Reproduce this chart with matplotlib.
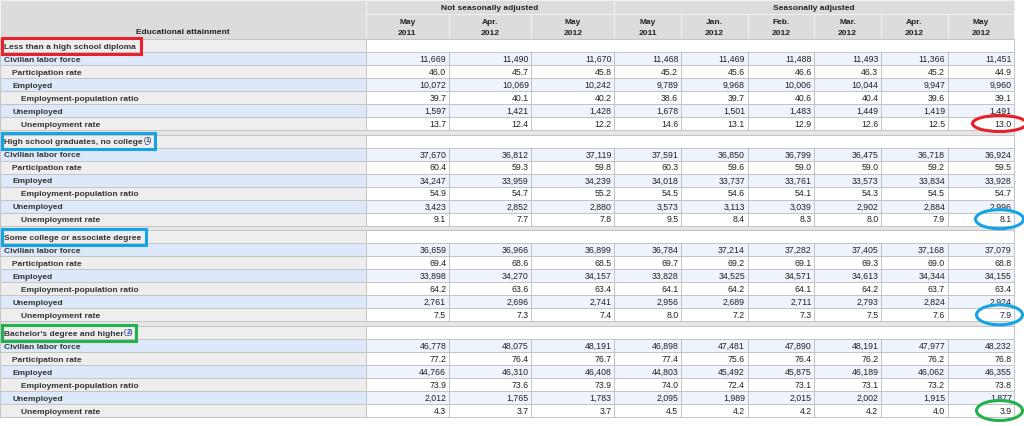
import matplotlib
matplotlib.use('Agg')
import matplotlib.pyplot as plt
from matplotlib.patches import Rectangle, Ellipse

plt.rcParams['font.family'] = ['Liberation Sans', 'DejaVu Sans']

# column headers
nsa_months = ['May\n2011', 'Apr.\n2012', 'May\n2012']
sa_months = ['May\n2011', 'Jan.\n2012', 'Feb.\n2012', 'Mar.\n2012', 'Apr.\n2012', 'May\n2012']

sections = ['Less than a high school diploma',
            'High school graduates, no college',
            'Some college or associate degree',
            "Bachelor's degree and higher"]
footnotes = [None, '1', None, '2']

row_labels = ['Civilian labor force', 'Participation rate', 'Employed',
              'Employment-population ratio', 'Unemployed', 'Unemployment rate']
row_indent = [0, 1, 1, 2, 1, 2]

less_hs = [
    ['11,669', '11,490', '11,670', '11,468', '11,469', '11,488', '11,493', '11,366', '11,451'],
    ['46.0', '45.7', '45.8', '45.2', '45.6', '46.6', '46.3', '45.2', '44.9'],
    ['10,072', '10,069', '10,242', '9,789', '9,968', '10,006', '10,044', '9,947', '9,960'],
    ['39.7', '40.1', '40.2', '38.6', '39.7', '40.6', '40.4', '39.6', '39.1'],
    ['1,597', '1,421', '1,428', '1,678', '1,501', '1,483', '1,449', '1,419', '1,491'],
    ['13.7', '12.4', '12.2', '14.6', '13.1', '12.9', '12.6', '12.5', '13.0'],
]
hs_grad = [
    ['37,670', '36,812', '37,119', '37,591', '36,850', '36,799', '36,475', '36,718', '36,924'],
    ['60.4', '59.3', '59.8', '60.3', '59.6', '59.0', '59.0', '59.2', '59.5'],
    ['34,247', '33,959', '34,239', '34,018', '33,737', '33,761', '33,573', '33,834', '33,928'],
    ['54.9', '54.7', '55.2', '54.5', '54.6', '54.1', '54.3', '54.5', '54.7'],
    ['3,423', '2,852', '2,880', '3,573', '3,113', '3,039', '2,902', '2,884', '2,996'],
    ['9.1', '7.7', '7.8', '9.5', '8.4', '8.3', '8.0', '7.9', '8.1'],
]
some_college = [
    ['36,659', '36,966', '36,899', '36,784', '37,214', '37,282', '37,405', '37,168', '37,079'],
    ['69.4', '68.6', '68.5', '69.7', '69.2', '69.1', '69.3', '69.0', '68.8'],
    ['33,898', '34,270', '34,157', '33,828', '34,525', '34,571', '34,613', '34,344', '34,155'],
    ['64.2', '63.6', '63.4', '64.1', '64.2', '64.1', '64.2', '63.7', '63.4'],
    ['2,761', '2,696', '2,741', '2,956', '2,689', '2,711', '2,793', '2,824', '2,924'],
    ['7.5', '7.3', '7.4', '8.0', '7.2', '7.3', '7.5', '7.6', '7.9'],
]
bachelor = [
    ['46,778', '48,075', '48,191', '46,898', '47,481', '47,890', '48,191', '47,977', '48,232'],
    ['77.2', '76.4', '76.7', '77.4', '75.6', '76.4', '76.2', '76.2', '76.8'],
    ['44,766', '46,310', '46,408', '44,803', '45,492', '45,875', '46,189', '46,062', '46,355'],
    ['73.9', '73.6', '73.9', '74.0', '72.4', '73.1', '73.1', '73.2', '73.8'],
    ['2,012', '1,765', '1,783', '2,095', '1,989', '2,015', '2,002', '1,915', '1,877'],
    ['4.3', '3.7', '3.7', '4.5', '4.2', '4.2', '4.2', '4.0', '3.9'],
]
tables = [less_hs, hs_grad, some_college, bachelor]
box_colors = ['#e8202a', '#14a4e6', '#14a4e6', '#22b14c']
# size of the hand-drawn ovals round the latest rate (w, h in px)
oval_size = [(54, 16), (48, 19), (46, 20), (46, 20)]

# layout (pixels)
W, H = 1024, 426
label_w = 366
nsa_w = 82.7
sa_w = 66.7
hdr1, hdr2 = 14, 39
row_h = 13.0
gap_h = 4.67

col_x = [label_w + i * nsa_w for i in range(4)]
col_x += [col_x[-1] + (i + 1) * sa_w for i in range(6)]
right = col_x[-1]

grid = '#c4c4c4'
hdr_bg = '#dcdcdc'
lab_bg = '#eeeeee'
lab_blue = '#dde8fa'
cell_blue = '#eef3fc'
txt = '#222222'
fs = 6.3
fsb = 6.0
base = 3.3  # baseline offset below row centre

fig = plt.figure(figsize=(W / 100, H / 100), dpi=100)
ax = fig.add_axes([0, 0, 1, 1])
ax.set_xlim(0, W)
ax.set_ylim(H, 0)
ax.axis('off')

def cell(x, y, w, h, fc, ec=grid, lw=0.7):
    ax.add_patch(Rectangle((x, y), w, h, facecolor=fc, edgecolor=ec, linewidth=lw))

# header
cell(0, 0, label_w, hdr2, hdr_bg, ec='#f2f2f2')
ax.text(label_w / 2, 31 + base, 'Educational attainment', ha='center', va='baseline',
        fontsize=fsb, fontweight='bold', color=txt)
cell(col_x[0], 0, col_x[3] - col_x[0], hdr1, hdr_bg, ec='#f2f2f2')
cell(col_x[3], 0, right - col_x[3], hdr1, hdr_bg, ec='#f2f2f2')
ax.text((col_x[0] + col_x[3]) / 2, 7 + base, 'Not seasonally adjusted', ha='center',
        va='baseline', fontsize=fsb, fontweight='bold', color=txt)
ax.text((col_x[3] + right) / 2, 7 + base, 'Seasonally adjusted', ha='center',
        va='baseline', fontsize=fsb, fontweight='bold', color=txt)
for i, m in enumerate(nsa_months + sa_months):
    x0, x1 = col_x[i], col_x[i + 1]
    cell(x0, hdr1, x1 - x0, hdr2 - hdr1, hdr_bg, ec='#f2f2f2')
    top, bot = m.split('\n')
    ax.text((x0 + x1) / 2, 21 + base, top, ha='center', va='baseline', fontsize=fsb,
            fontweight='bold', color=txt)
    ax.text((x0 + x1) / 2, 31.5 + base, bot, ha='center', va='baseline', fontsize=fsb,
            fontweight='bold', color=txt)

y = hdr2
for s, name in enumerate(sections):
    if s > 0:
        cell(0, y, right, gap_h, '#e6e6e6')
        y += gap_h
    # section header row
    cell(0, y, label_w, row_h, lab_bg)
    cell(label_w, y, right - label_w, row_h, 'white')
    t = ax.text(4, y + row_h / 2 + base, name, ha='left', va='baseline', fontsize=fsb,
                fontweight='bold', color='#333333')
    sec_y = y
    fig.canvas.draw()
    bb = t.get_window_extent().transformed(ax.transData.inverted())
    if footnotes[s]:
        fy = y + row_h / 2 + 1
        ax.text(bb.x1 + 0.5, fy, '(', ha='left', va='baseline', fontsize=5, color=txt)
        ax.text(bb.x1 + 2.7, fy, footnotes[s], ha='left', va='baseline',
                fontsize=5, color='#1f3fd0', fontweight='bold')
        ax.plot([bb.x1 + 2.6, bb.x1 + 5.6], [fy + 1.8, fy + 1.8], color='#1f3fd0', lw=0.5)
        ax.text(bb.x1 + 6.3, fy, ')', ha='left', va='baseline', fontsize=5, color=txt)
        box_r = bb.x1 + 12
    else:
        box_r = bb.x1 + 5
    ax.add_patch(Rectangle((1.5, sec_y - 1.5), box_r - 1.5, row_h + 3, fill=False,
                           edgecolor=box_colors[s], linewidth=2.2, zorder=5))
    y += row_h
    for r, lab in enumerate(row_labels):
        blue = r % 2 == 0
        cell(0, y, label_w, row_h, lab_blue if blue else lab_bg)
        ax.text(4 + 8.5 * row_indent[r], y + row_h / 2 + base, lab, ha='left',
                va='baseline', fontsize=fsb, fontweight='bold', color='#333333')
        for c in range(9):
            x0, x1 = col_x[c], col_x[c + 1]
            cell(x0, y, x1 - x0, row_h, cell_blue if blue else 'white')
            ax.text(x1 - 2.5, y + row_h / 2 + base, tables[s][r][c], ha='right',
                    va='baseline', fontsize=fs, color=txt)
        y += row_h
    # circle the latest unemployment rate
    ow, oh = oval_size[s]
    ax.add_patch(Ellipse((999.5, y - row_h / 2), ow, oh, fill=False,
                         edgecolor=box_colors[s], linewidth=2.2, zorder=5))

fig.savefig('out.png', dpi=100)
